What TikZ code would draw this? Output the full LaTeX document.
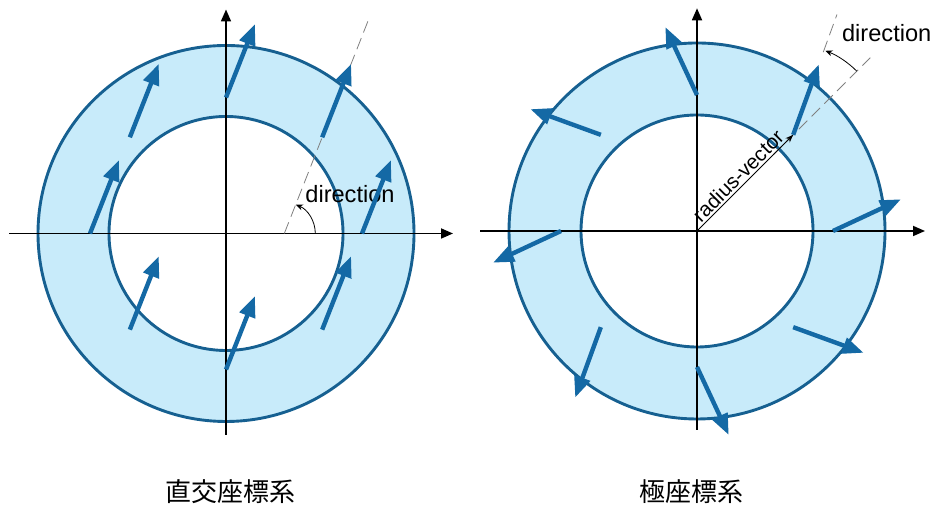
\documentclass[tikz,border=0pt]{standalone}
\usepackage{fontspec}
\setmainfont{Liberation Sans}
\newfontfamily\jpfont{Noto Sans CJK JP}
\usetikzlibrary{arrows.meta, positioning, calc}

\definecolor{ringfill}{RGB}{200,235,250}
\definecolor{ringline}{RGB}{22,96,145}
\definecolor{vecblue}{RGB}{20,105,165}

\tikzset{
  ring/.style={draw=ringline, line width=1.45pt},
  axis/.style={line width=0.85pt, -{Triangle[length=6pt,width=5pt]}},
  vec/.style={draw=vecblue, line width=2.2pt, -{Triangle[length=10.5pt,width=8pt]}},
  guide/.style={gray, line width=0.4pt, dash pattern=on 6pt off 3pt},
  anglearc/.style={line width=0.4pt, -{Stealth[length=3.5pt,width=3pt]}},
  radvec/.style={line width=0.5pt, -{Stealth[length=4pt,width=3pt]}},
  lbl/.style={font=\fontsize{11.8}{14}\selectfont, inner sep=0pt},
  caption/.style={font=\jpfont\fontsize{13}{15}\selectfont, inner sep=0pt}
}

\begin{document}
\begin{tikzpicture}[x=0.5pt, y=0.5pt]
  \useasboundingbox (0,0) rectangle (935,506);

  % cartesian frame
  \begin{scope}[shift={(226,272.5)}]
    \coordinate (LO) at (0,0);
    \fill[ringfill, even odd rule] (LO) circle[radius=94pt] (LO) circle[radius=58.5pt];
    \draw[ring] (LO) circle[radius=94pt];
    \draw[ring] (LO) circle[radius=58.5pt];

    \coordinate (LxW) at (-217,0);
    \coordinate (LxE) at (227,0);
    \coordinate (LyS) at (0,-201.5);
    \coordinate (LyN) at (0,224);
    \draw[axis] (LxW) -- (LxE);
    \draw[axis] (LyS) -- (LyN);

    \coordinate (Lg0) at (58.3,0);
    \coordinate (Lg1) at ($(Lg0)+(68.5:231)$);
    \draw[guide] (Lg0) -- (Lg1);
    \draw[anglearc] ($(Lg0)+(31,0)$) arc[start angle=0, end angle=68, radius=15.5pt];
    \node[lbl] (Ldir) at (124,39) {direction};

    \foreach \a [count=\i] in {0,45,...,315} {
      \coordinate (Lt\i) at (\a:136);
      \coordinate (Lh\i) at ($(Lt\i)+(68.5:79)$);
      \draw[vec] (Lt\i) -- (Lh\i);
    }
  \end{scope}

  % polar frame
  \begin{scope}[shift={(697,275)}]
    \coordinate (RO) at (0,0);
    \fill[ringfill, even odd rule] (RO) circle[radius=94pt] (RO) circle[radius=58pt];
    \draw[ring] (RO) circle[radius=94pt];
    \draw[ring] (RO) circle[radius=58pt];

    \coordinate (RxW) at (-217,0);
    \coordinate (RxE) at (228,0);
    \coordinate (RyS) at (0,-199);
    \coordinate (RyN) at (0,222.7);
    \draw[axis] (RxW) -- (RxE);
    \draw[axis] (RyS) -- (RyN);

    \foreach \a [count=\i] in {0,45,...,315} {
      \coordinate (Rt\i) at (\a:136);
      \coordinate (Rh\i) at ($(Rt\i)+({\a+25}:75)$);
    }

    \coordinate (Rg0) at (45:108);
    \coordinate (Rg1) at (45:245);
    \draw[guide] (Rg0) -- (Rg1);
    \coordinate (Rd0) at ($(Rt2)+(70:88)$);
    \coordinate (Rd1) at ($(Rt2)+(70:128)$);
    \draw[guide] (Rd0) -- (Rd1);
    \draw[anglearc] ($(Rt2)+(45:90)$) arc[start angle=45, end angle=69, radius=45pt];

    \draw[radvec] (RO) -- node[midway, above=1pt, sloped, font=\fontsize{10.3}{12}\selectfont, inner sep=0pt] (Rlbl) {radius-vector} (Rt2);
    \node[lbl] (Rdir) at (189.7,197.7) {direction};

    \foreach \i in {1,...,8} {
      \draw[vec] (Rt\i) -- (Rh\i);
    }
  \end{scope}

  \node[caption] (capL) at (230,14.3) {直交座標系};
  \node[caption] (capR) at (691.7,14.3) {極座標系};
\end{tikzpicture}
\end{document}
